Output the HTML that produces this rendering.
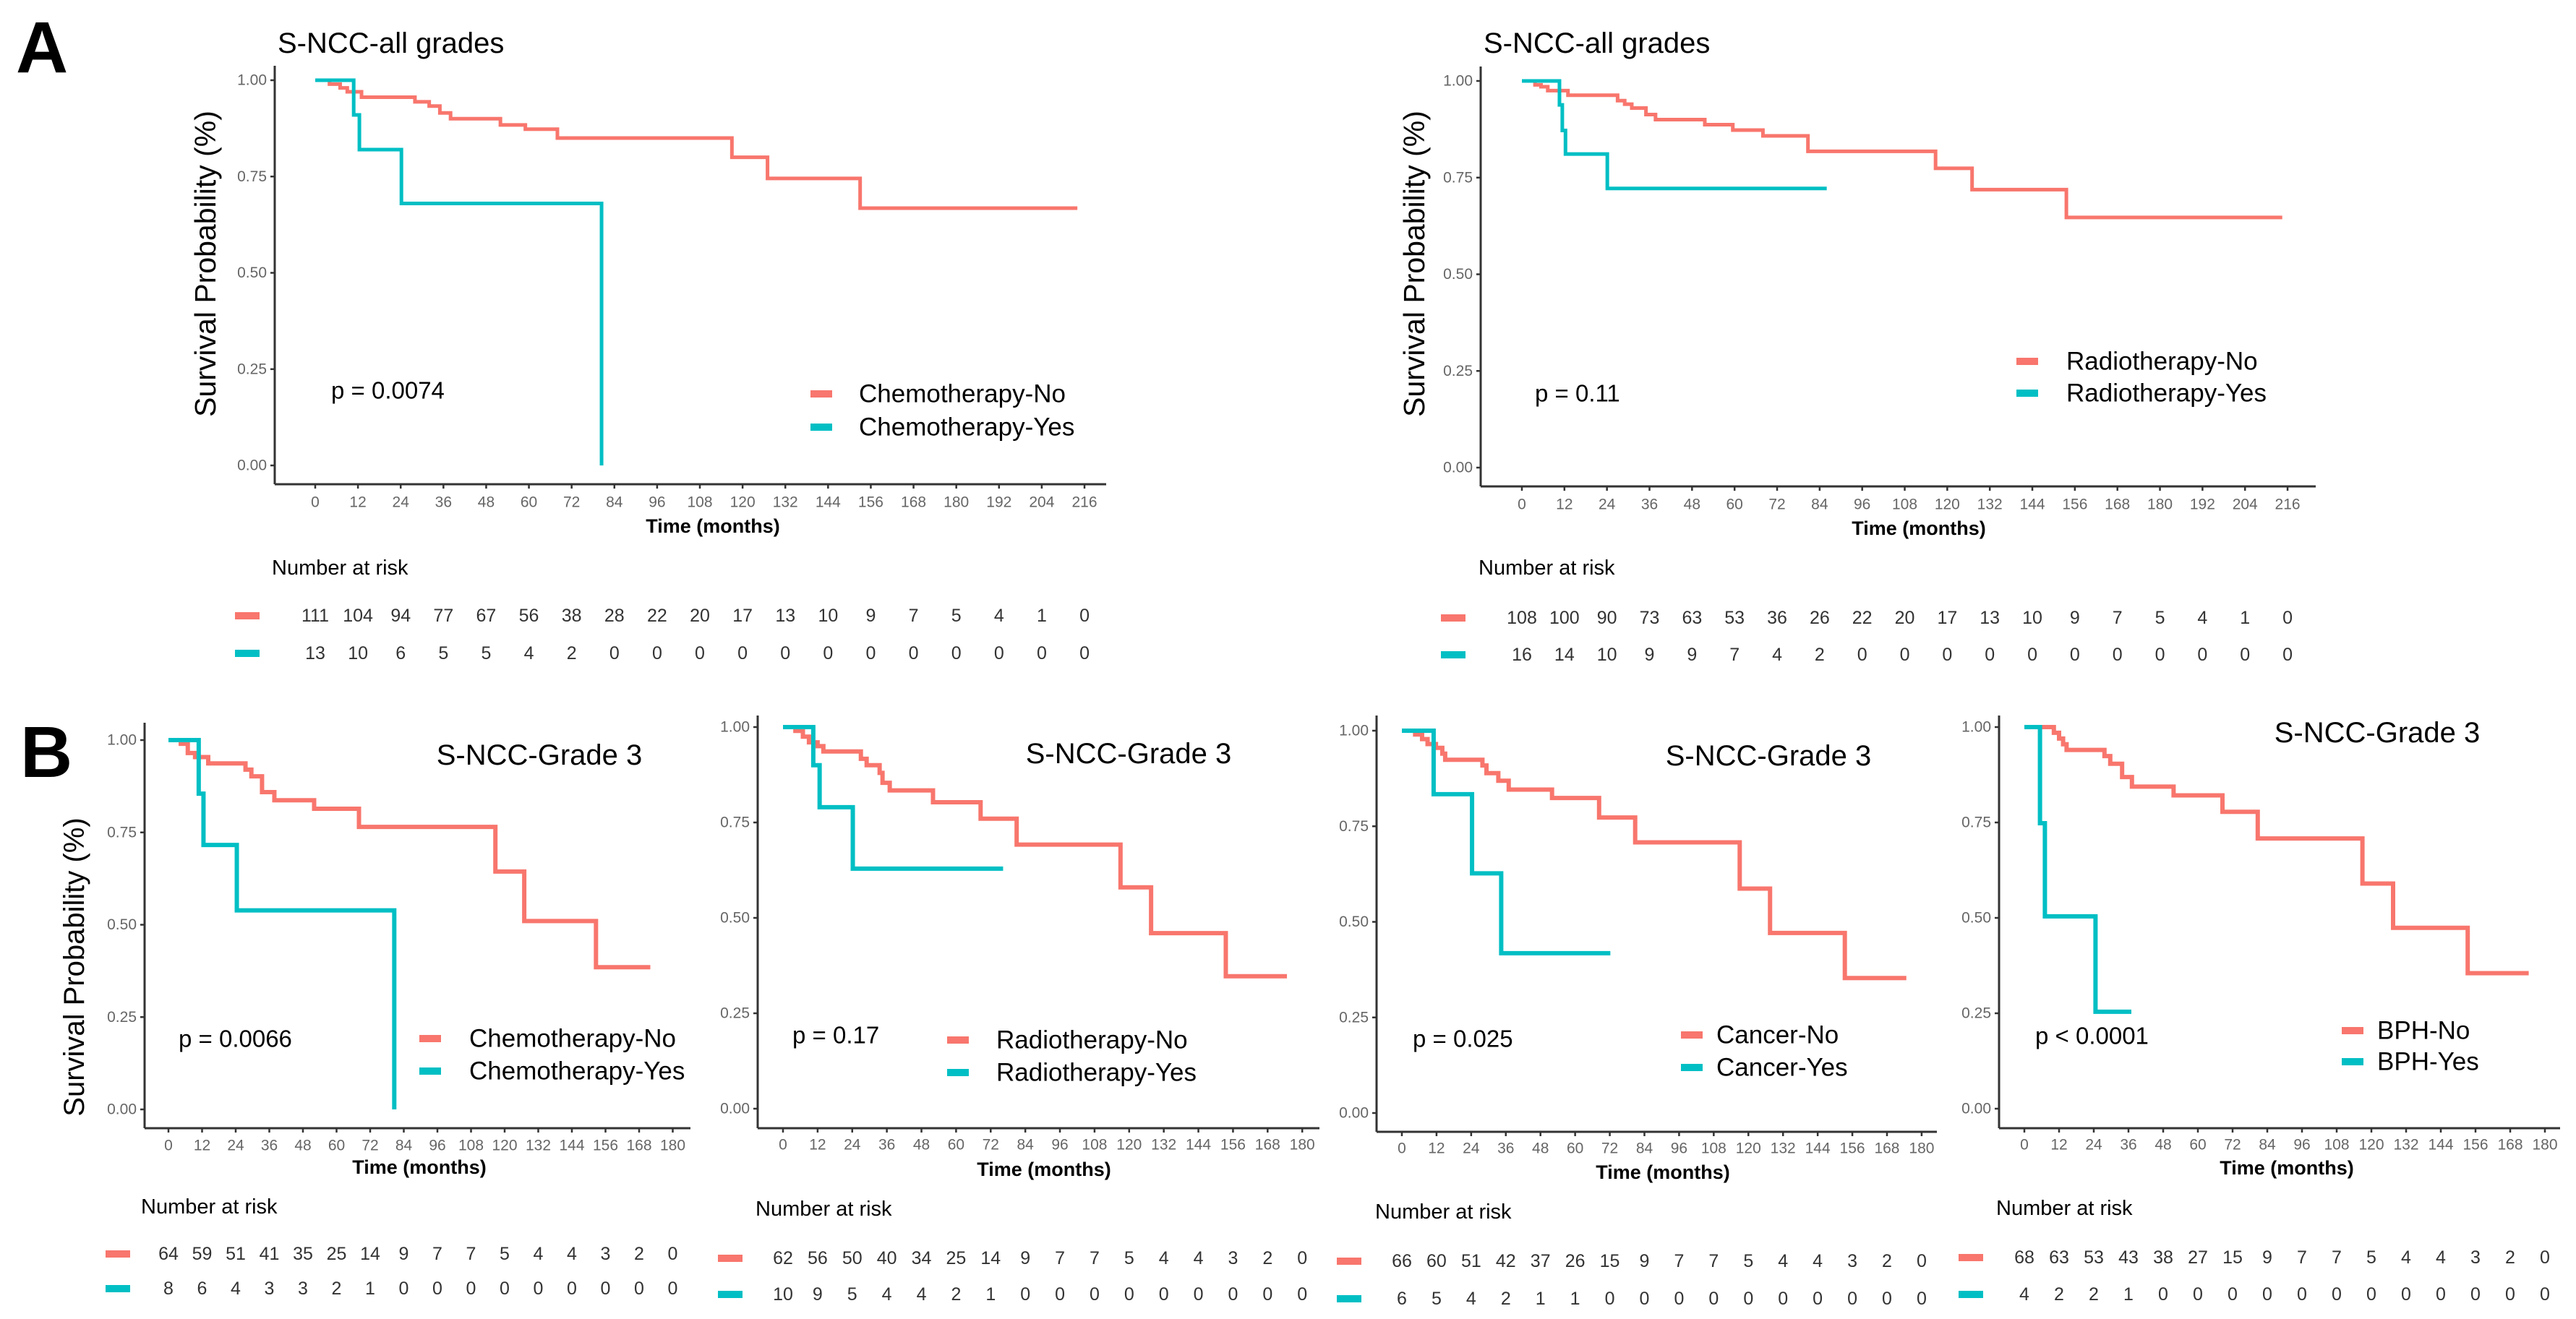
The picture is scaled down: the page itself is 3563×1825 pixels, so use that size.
<!DOCTYPE html>
<html><head><meta charset="utf-8"><title>KM survival curves</title>
<style>
html,body{margin:0;padding:0;background:#fff;}
svg{display:block;font-family:"Liberation Sans",Arial,sans-serif;}
</style></head>
<body>
<svg id="fig" width="3563" height="1825" viewBox="0 0 3563 1825" xmlns="http://www.w3.org/2000/svg">
<rect width="3563" height="1825" fill="#fff"/>
<text x="22" y="100" font-size="100" font-weight="bold" fill="#000">A</text>
<text x="28" y="1075" font-size="100" font-weight="bold" fill="#000">B</text>
<text transform="translate(284,365) rotate(-90)" text-anchor="middle" dominant-baseline="central" font-size="41" fill="#000">Survival Probability (%)</text>
<text transform="translate(1956,365) rotate(-90)" text-anchor="middle" dominant-baseline="central" font-size="41" fill="#000">Survival Probability (%)</text>
<text transform="translate(103,1338) rotate(-90)" text-anchor="middle" dominant-baseline="central" font-size="40" fill="#000">Survival Probability (%)</text>
</svg>
<script>
// ---------- data ----------
const ticksA = [0,12,24,36,48,60,72,84,96,108,120,132,144,156,168,180,192,204,216];
const ticksB = [0,12,24,36,48,60,72,84,96,108,120,132,144,156,168,180];
const yTicks = [0,0.25,0.5,0.75,1];
const yTickLabels = ["0.00","0.25","0.50","0.75","1.00"];

// A-left: chemotherapy
const a1NoT = [4,7,9,13,28,32,35,38,52,59,68,117,127,153];
const a1NoS = [0.99,0.98,0.97,0.956,0.944,0.933,0.915,0.90,0.884,0.873,0.85,0.80,0.745,0.668];
const a1NoEnd = 214;
const a1YesT = [10.8,12.4,24.2,80.4];
const a1YesS = [0.91,0.82,0.68,0.0];
const a1YesEnd = 80.4;
const a1RiskNo = [111,104,94,77,67,56,38,28,22,20,17,13,10,9,7,5,4,1,0];
const a1RiskYes = [13,10,6,5,5,4,2,0,0,0,0,0,0,0,0,0,0,0,0];

// A-right: radiotherapy
const a2NoT = [3.7,5.4,7.3,13,27,29,31,35,37.7,51.6,59.5,68,80.7,116.7,127,153.6];
const a2NoS = [0.99,0.985,0.975,0.963,0.949,0.94,0.93,0.913,0.90,0.887,0.873,0.858,0.818,0.774,0.719,0.647];
const a2NoEnd = 214.5;
const a2YesT = [10.6,11.4,12.3,24.1];
const a2YesS = [0.938,0.872,0.811,0.722];
const a2YesEnd = 86;
const a2RiskNo = [108,100,90,73,63,53,36,26,22,20,17,13,10,9,7,5,4,1,0];
const a2RiskYes = [16,14,10,9,9,7,4,2,0,0,0,0,0,0,0,0,0,0,0];

// B1: chemotherapy grade 3
const b1NoT = [4.4,6.9,9.5,14.2,27.5,29.6,33.4,37.8,52,68,116.7,127,152.6];
const b1NoS = [0.99,0.965,0.954,0.937,0.92,0.902,0.859,0.837,0.814,0.765,0.644,0.51,0.385];
const b1NoEnd = 172;
const b1YesT = [10.8,12.5,24.4,80.6];
const b1YesS = [0.855,0.716,0.539,0.0];
const b1YesEnd = 80.6;
const b1RiskNo = [64,59,51,41,35,25,14,9,7,7,5,4,4,3,2,0];
const b1RiskYes = [8,6,4,3,3,2,1,0,0,0,0,0,0,0,0,0];

// B2: radiotherapy grade 3
const b2NoT = [4.3,6.9,9,12,14,27,29,33.5,34.5,37,52,68.5,81,117,127.6,153.5];
const b2NoS = [0.99,0.975,0.96,0.95,0.936,0.917,0.90,0.88,0.854,0.834,0.803,0.76,0.692,0.58,0.46,0.347];
const b2NoEnd = 174.7;
const b2YesT = [10.5,12.7,24.2];
const b2YesS = [0.90,0.79,0.629];
const b2YesEnd = 76.3;
const b2RiskNo = [62,56,50,40,34,25,14,9,7,7,5,4,4,3,2,0];
const b2RiskYes = [10,9,5,4,4,2,1,0,0,0,0,0,0,0,0,0];

// B3: cancer grade 3
const b3NoT = [4.6,7,8.9,11.8,14,15,27.9,29.3,33.4,37,52,68.3,80.8,117,127.5,153.4];
const b3NoS = [0.99,0.978,0.965,0.955,0.94,0.924,0.909,0.889,0.869,0.846,0.824,0.773,0.708,0.587,0.471,0.353];
const b3NoEnd = 174.7;
const b3YesT = [11,24.3,34.4];
const b3YesS = [0.834,0.627,0.418];
const b3YesEnd = 72.2;
const b3RiskNo = [66,60,51,42,37,26,15,9,7,7,5,4,4,3,2,0];
const b3RiskYes = [6,5,4,2,1,1,0,0,0,0,0,0,0,0,0,0];

// B4: BPH grade 3
const b4NoT = [10.2,12,13.4,14.6,27.7,29.7,33.8,37.2,51.6,68.5,80.7,116.9,127.5,153.3];
const b4NoS = [0.985,0.97,0.955,0.94,0.924,0.904,0.869,0.844,0.821,0.778,0.708,0.59,0.474,0.355];
const b4NoEnd = 174.4;
const b4YesT = [5.4,7.1,24.6];
const b4YesS = [0.748,0.504,0.254];
const b4YesEnd = 37;
const b4RiskNo = [68,63,53,43,38,27,15,9,7,7,5,4,4,3,2,0];
const b4RiskYes = [4,2,2,1,0,0,0,0,0,0,0,0,0,0,0,0];

// ---------- drawing ----------
const RED = "#F8766D", CYAN = "#00BFC4";
const NS = "http://www.w3.org/2000/svg";
const svg = document.getElementById("fig");

function mk(tag, attrs, parent, txt) {
  const e = document.createElementNS(NS, tag);
  for (const k in attrs) e.setAttribute(k, attrs[k]);
  if (txt !== undefined) e.textContent = txt;
  (parent || svg).appendChild(e);
  return e;
}

function drawPanel(L, D) {
  const g = mk("g", {});
  
  
  const X = t => L.x0 + t * L.ppm;
  const Y = v => L.y0 - v * (L.y0 - L.y1);

  // axes
  const ax = mk("g", {stroke: "#333", "stroke-width": 3, fill: "none"}, g);
  
  
  mk("line", {x1: L.axisX, y1: L.top, x2: L.axisX, y2: L.axisY}, ax);
  mk("line", {x1: L.axisX, y1: L.axisY, x2: L.right, y2: L.axisY}, ax);

  // y ticks
  yTicks.forEach((v, i) => {
    mk("line", {x1: L.axisX - 6, y1: Y(v), x2: L.axisX, y2: Y(v), stroke: "#333", "stroke-width": 2.5}, g);
    const t = mk("text", {x: L.axisX - 11, y: Y(v), "text-anchor": "end", "dominant-baseline": "central", "font-size": L.tickFs, fill: "#666"}, g, yTickLabels[i]);
    
    
  });
  // x ticks
  D.ticks.forEach(m => {
    mk("line", {x1: X(m), y1: L.axisY, x2: X(m), y2: L.axisY + 6, stroke: "#333", "stroke-width": 2.5}, g);
    const t = mk("text", {x: X(m), y: L.tickY, "text-anchor": "middle", "dominant-baseline": "central", "font-size": L.tickFs, fill: "#666"}, g, String(m));
    
    
  });
  const xt = mk("text", {x: L.timeX, y: L.timeY, "text-anchor": "middle", "dominant-baseline": "central", "font-size": L.timeFs, "font-weight": "bold", fill: "#000"}, g, "Time (months)");
  
  

  // curves
  function curve(times, surv, end, color, name) {
    let d = "M" + X(0) + "," + Y(1);
    for (let i = 0; i < times.length; i++) {
      d += " H" + X(times[i]) + " V" + Y(surv[i]);
    }
    d += " H" + X(end);
    const p = mk("path", {d: d, fill: "none", stroke: color, "stroke-width": L.lw, "stroke-linejoin": "miter"}, g);
    
    
  }
  curve(D.noT, D.noS, D.noEnd, RED, 'curve-no');
  curve(D.yesT, D.yesS, D.yesEnd, CYAN, 'curve-yes');

  // title
  const ti = mk("text", {x: L.titleX, y: L.titleY, "text-anchor": L.titleAnchor, "dominant-baseline": "central", "font-size": L.titleFs, fill: "#000"}, g, L.title);
  
  
  // p value
  const pv = mk("text", {x: L.pX, y: L.pY, "dominant-baseline": "central", "font-size": L.pFs, fill: "#000"}, g, L.pText);
  
  
  // legend
  [[RED, L.legNo, L.legY1, 'legend-entry-no'], [CYAN, L.legYes, L.legY2, 'legend-entry-yes']].forEach(e => {
    const lg = mk("g", {}, g);
    
    
    mk("rect", {x: L.legKeyX, y: e[2] - 5, width: 30, height: 10, fill: e[0]}, lg);
    mk("text", {x: L.legTextX, y: e[2], "dominant-baseline": "central", "font-size": L.legFs, fill: "#000"}, lg, e[1]);
  });
  // risk table
  const nr = mk("text", {x: L.nrX, y: L.nrY, "dominant-baseline": "central", "font-size": L.nrFs, fill: "#000"}, g, "Number at risk");
  
  
  [[RED, D.riskNo, L.r1Y, 'risk-row-no'], [CYAN, D.riskYes, L.r2Y, 'risk-row-yes']].forEach(r => {
    const rg = mk("g", {}, g);
    
    
    mk("rect", {x: L.keyX, y: r[2] - 5, width: 34, height: 10, fill: r[0]}, rg);
    r[1].forEach((n, i) => {
      mk("text", {x: X(D.ticks[i]), y: r[2], "text-anchor": "middle", "dominant-baseline": "central", "font-size": L.riskFs, fill: "#333"}, rg, String(n));
    });
  });
}

const common = {tickFs: 21, lw: 6, titleFs: 40, pFs: 33, legFs: 35, nrFs: 29, riskFs: 25, timeFs: 27};

drawPanel(Object.assign({}, common, {
  id: 'a-chemo', axisX: 380, x0: 436, ppm: 4.926, y1: 111, y0: 644, axisY: 670, right: 1530, top: 91,
  tickY: 695, timeX: 986, timeY: 728, lw: 5,
  title: "S-NCC-all grades", titleX: 384, titleY: 60, titleAnchor: "start",
  pText: "p = 0.0074", pX: 458, pY: 540,
  legNo: "Chemotherapy-No", legYes: "Chemotherapy-Yes", legKeyX: 1121, legTextX: 1188, legY1: 545, legY2: 591,
  nrX: 376, nrY: 786, keyX: 325, r1Y: 852, r2Y: 904
}), {ticks: ticksA, noT: a1NoT, noS: a1NoS, noEnd: a1NoEnd, yesT: a1YesT, yesS: a1YesS, yesEnd: a1YesEnd, riskNo: a1RiskNo, riskYes: a1RiskYes});

drawPanel(Object.assign({}, common, {
  id: 'a-radio', axisX: 2048, x0: 2105, ppm: 4.903, y1: 112, y0: 647, axisY: 673, right: 3203, top: 92,
  tickY: 698, timeX: 2654, timeY: 731, lw: 5,
  title: "S-NCC-all grades", titleX: 2052, titleY: 60, titleAnchor: "start",
  pText: "p = 0.11", pX: 2123, pY: 544,
  legNo: "Radiotherapy-No", legYes: "Radiotherapy-Yes", legKeyX: 2789, legTextX: 2858, legY1: 500, legY2: 544,
  nrX: 2045, nrY: 786, keyX: 1993, r1Y: 855, r2Y: 906
}), {ticks: ticksA, noT: a2NoT, noS: a2NoS, noEnd: a2NoEnd, yesT: a2YesT, yesS: a2YesS, yesEnd: a2YesEnd, riskNo: a2RiskNo, riskYes: a2RiskYes});

drawPanel(Object.assign({}, common, {
  id: 'b-chemo', axisX: 200, x0: 233, ppm: 3.875, y1: 1024, y0: 1535, axisY: 1561, right: 955, top: 1000,
  tickY: 1585, timeX: 580, timeY: 1615,
  title: "S-NCC-Grade 3", titleX: 746, titleY: 1045, titleAnchor: "middle",
  pText: "p = 0.0066", pX: 247, pY: 1437,
  legNo: "Chemotherapy-No", legYes: "Chemotherapy-Yes", legKeyX: 580, legTextX: 649, legY1: 1437, legY2: 1482,
  nrX: 195, nrY: 1670, keyX: 146, r1Y: 1735, r2Y: 1783
}), {ticks: ticksB, noT: b1NoT, noS: b1NoS, noEnd: b1NoEnd, yesT: b1YesT, yesS: b1YesS, yesEnd: b1YesEnd, riskNo: b1RiskNo, riskYes: b1RiskYes});

drawPanel(Object.assign({}, common, {
  id: 'b-radio', axisX: 1048, x0: 1083, ppm: 3.99, y1: 1006, y0: 1534, axisY: 1561, right: 1825, top: 990,
  tickY: 1584, timeX: 1444, timeY: 1618,
  title: "S-NCC-Grade 3", titleX: 1561, titleY: 1043, titleAnchor: "middle",
  pText: "p = 0.17", pX: 1096, pY: 1432,
  legNo: "Radiotherapy-No", legYes: "Radiotherapy-Yes", legKeyX: 1310, legTextX: 1378, legY1: 1439, legY2: 1484,
  nrX: 1045, nrY: 1673, keyX: 993, r1Y: 1741, r2Y: 1791
}), {ticks: ticksB, noT: b2NoT, noS: b2NoS, noEnd: b2NoEnd, yesT: b2YesT, yesS: b2YesS, yesEnd: b2YesEnd, riskNo: b2RiskNo, riskYes: b2RiskYes});

drawPanel(Object.assign({}, common, {
  id: 'b-cancer', axisX: 1904, x0: 1939, ppm: 3.994, y1: 1011, y0: 1540, axisY: 1566, right: 2679, top: 990,
  tickY: 1589, timeX: 2300, timeY: 1622,
  title: "S-NCC-Grade 3", titleX: 2446, titleY: 1046, titleAnchor: "middle",
  pText: "p = 0.025", pX: 1954, pY: 1437,
  legNo: "Cancer-No", legYes: "Cancer-Yes", legKeyX: 2325, legTextX: 2374, legY1: 1432, legY2: 1477,
  nrX: 1902, nrY: 1677, keyX: 1849, r1Y: 1745, r2Y: 1797
}), {ticks: ticksB, noT: b3NoT, noS: b3NoS, noEnd: b3NoEnd, yesT: b3YesT, yesS: b3YesS, yesEnd: b3YesEnd, riskNo: b3RiskNo, riskYes: b3RiskYes});

drawPanel(Object.assign({}, common, {
  id: 'b-bph', axisX: 2765, x0: 2800, ppm: 4.0, y1: 1006, y0: 1534, axisY: 1561, right: 3541, top: 990,
  tickY: 1584, timeX: 3163, timeY: 1616,
  title: "S-NCC-Grade 3", titleX: 3288, titleY: 1014, titleAnchor: "middle",
  pText: "p < 0.0001", pX: 2815, pY: 1433,
  legNo: "BPH-No", legYes: "BPH-Yes", legKeyX: 3239, legTextX: 3288, legY1: 1426, legY2: 1469,
  nrX: 2761, nrY: 1672, keyX: 2709, r1Y: 1740, r2Y: 1791
}), {ticks: ticksB, noT: b4NoT, noS: b4NoS, noEnd: b4NoEnd, yesT: b4YesT, yesS: b4YesS, yesEnd: b4YesEnd, riskNo: b4RiskNo, riskYes: b4RiskYes});
</script>
</body></html>
